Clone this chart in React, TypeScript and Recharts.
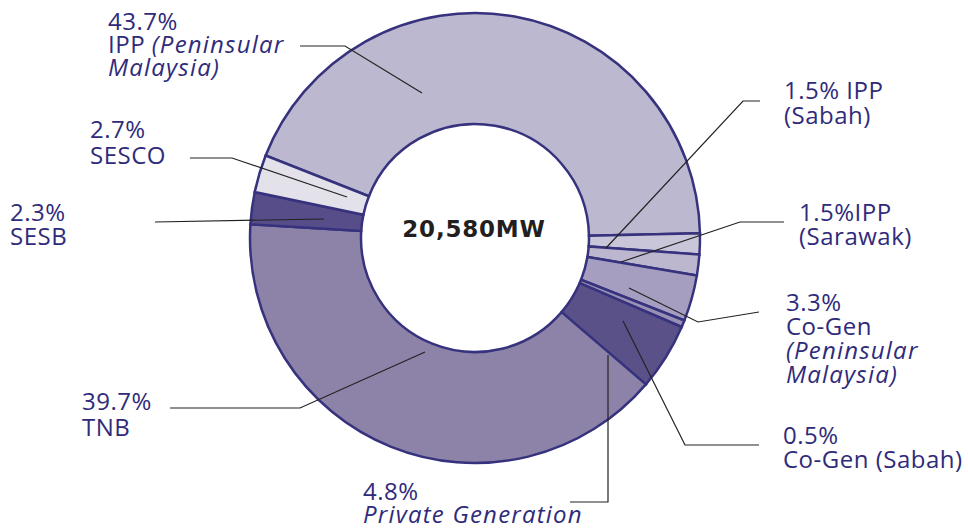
import { PieChart, Pie, Cell } from "recharts";

const segments = [
  "IPP (Peninsular Malaysia)",
  "IPP (Sabah)",
  "IPP (Sarawak)",
  "Co-Gen (Peninsular Malaysia)",
  "Co-Gen (Sabah)",
  "Private Generation",
  "TNB",
  "SESB",
  "SESCO",
];
const shares = [43.7, 1.5, 1.5, 3.3, 0.5, 4.8, 39.7, 2.3, 2.7];

// label text: lines made of [text, italic] parts
const labelLines: [string, boolean][][][] = [
  [[["43.7%", false]], [["IPP ", false], ["(Peninsular", true]], [["Malaysia)", true]]],
  [[["1.5% IPP", false]], [["(Sabah)", false]]],
  [[["1.5%IPP", false]], [["(Sarawak)", false]]],
  [[["3.3%", false]], [["Co-Gen", false]], [["(Peninsular", true]], [["Malaysia)", true]]],
  [[["0.5%", false]], [["Co-Gen (Sabah)", false]]],
  [[["4.8%", false]], [["Private Generation", true]]],
  [[["39.7%", false]], [["TNB", false]]],
  [[["2.3%", false]], [["SESB", false]]],
  [[["2.7%", false]], [["SESCO", false]]],
];

const colors = [
  "#bcb8cf",
  "#cac6da",
  "#bcb7cf",
  "#a59ec0",
  "#9890b5",
  "#5b5189",
  "#8d83a8",
  "#574d88",
  "#e3e1ea",
];

// layout: text x, first baseline, line gap, leader polyline
const layout = [
  { x: 108, y: 30, gap: 23, line: [[422, 93], [345, 46], [300, 46]] },
  { x: 784, y: 99, gap: 25, line: [[606, 248], [743, 101], [760, 101]] },
  { x: 799, y: 221, gap: 24, line: [[621, 262], [740, 222], [784, 222]] },
  { x: 786, y: 311, gap: 24, line: [[629, 288], [698, 322], [759, 312]] },
  { x: 783, y: 444, gap: 24, line: [[623, 321], [685, 445], [759, 445]] },
  { x: 363, y: 500, gap: 23, line: [[608, 355], [608, 502], [570, 502]] },
  { x: 82, y: 410, gap: 26, line: [[425, 352], [300, 408], [170, 408]] },
  { x: 10, y: 221, gap: 24, line: [[324, 219], [155, 222]] },
  { x: 90, y: 138, gap: 26, line: [[347, 197], [232, 158], [190, 158]] },
];

const data = segments.map((name, i) => ({ name, value: shares[i] }));

const textColor = "#2f2b7a";
const font = "'Open Sans', sans-serif";

function renderLabel(props: any) {
  const i = props.index;
  const l = layout[i];
  return (
    <g key={`lbl-${i}`}>
      <polyline
        points={l.line.map((p) => p.join(",")).join(" ")}
        fill="none"
        stroke="#222"
        strokeWidth={1.2}
      />
      {labelLines[i].map((parts, j) => (
        <text
          key={j}
          x={l.x}
          y={l.y + j * l.gap}
          fill={textColor}
          fontSize={24}
          fontFamily={font}
        >
          {parts.map(([t, it], k) => (
            <tspan
              key={k}
              fontStyle={it ? "italic" : "normal"}
              letterSpacing={it ? 1.2 : 0.5}
            >
              {t}
            </tspan>
          ))}
        </text>
      ))}
    </g>
  );
}

export default function App() {
  return (
    <div style={{ width: 968, height: 530 }}>
      <style>{`body{margin:0;background:#fff}`}</style>
      <PieChart width={968} height={530}>
        <Pie
          data={data}
          dataKey="value"
          nameKey="name"
          cx={470}
          cy={233}
          innerRadius={114}
          outerRadius={225}
          startAngle={158.5}
          endAngle={-201.5}
          stroke="#36327d"
          strokeWidth={2.5}
          label={renderLabel}
          labelLine={false}
          isAnimationActive={false}
        >
          {data.map((d, i) => (
            <Cell key={d.name} fill={colors[i]} />
          ))}
        </Pie>
        <text
          x={474}
          y={237}
          textAnchor="middle"
          fontSize={23}
          fontWeight="bold"
          letterSpacing={0.8}
          fill="#231f20"
          fontFamily="'DejaVu Sans', sans-serif"
        >
          20,580MW
        </text>
      </PieChart>
    </div>
  );
}
